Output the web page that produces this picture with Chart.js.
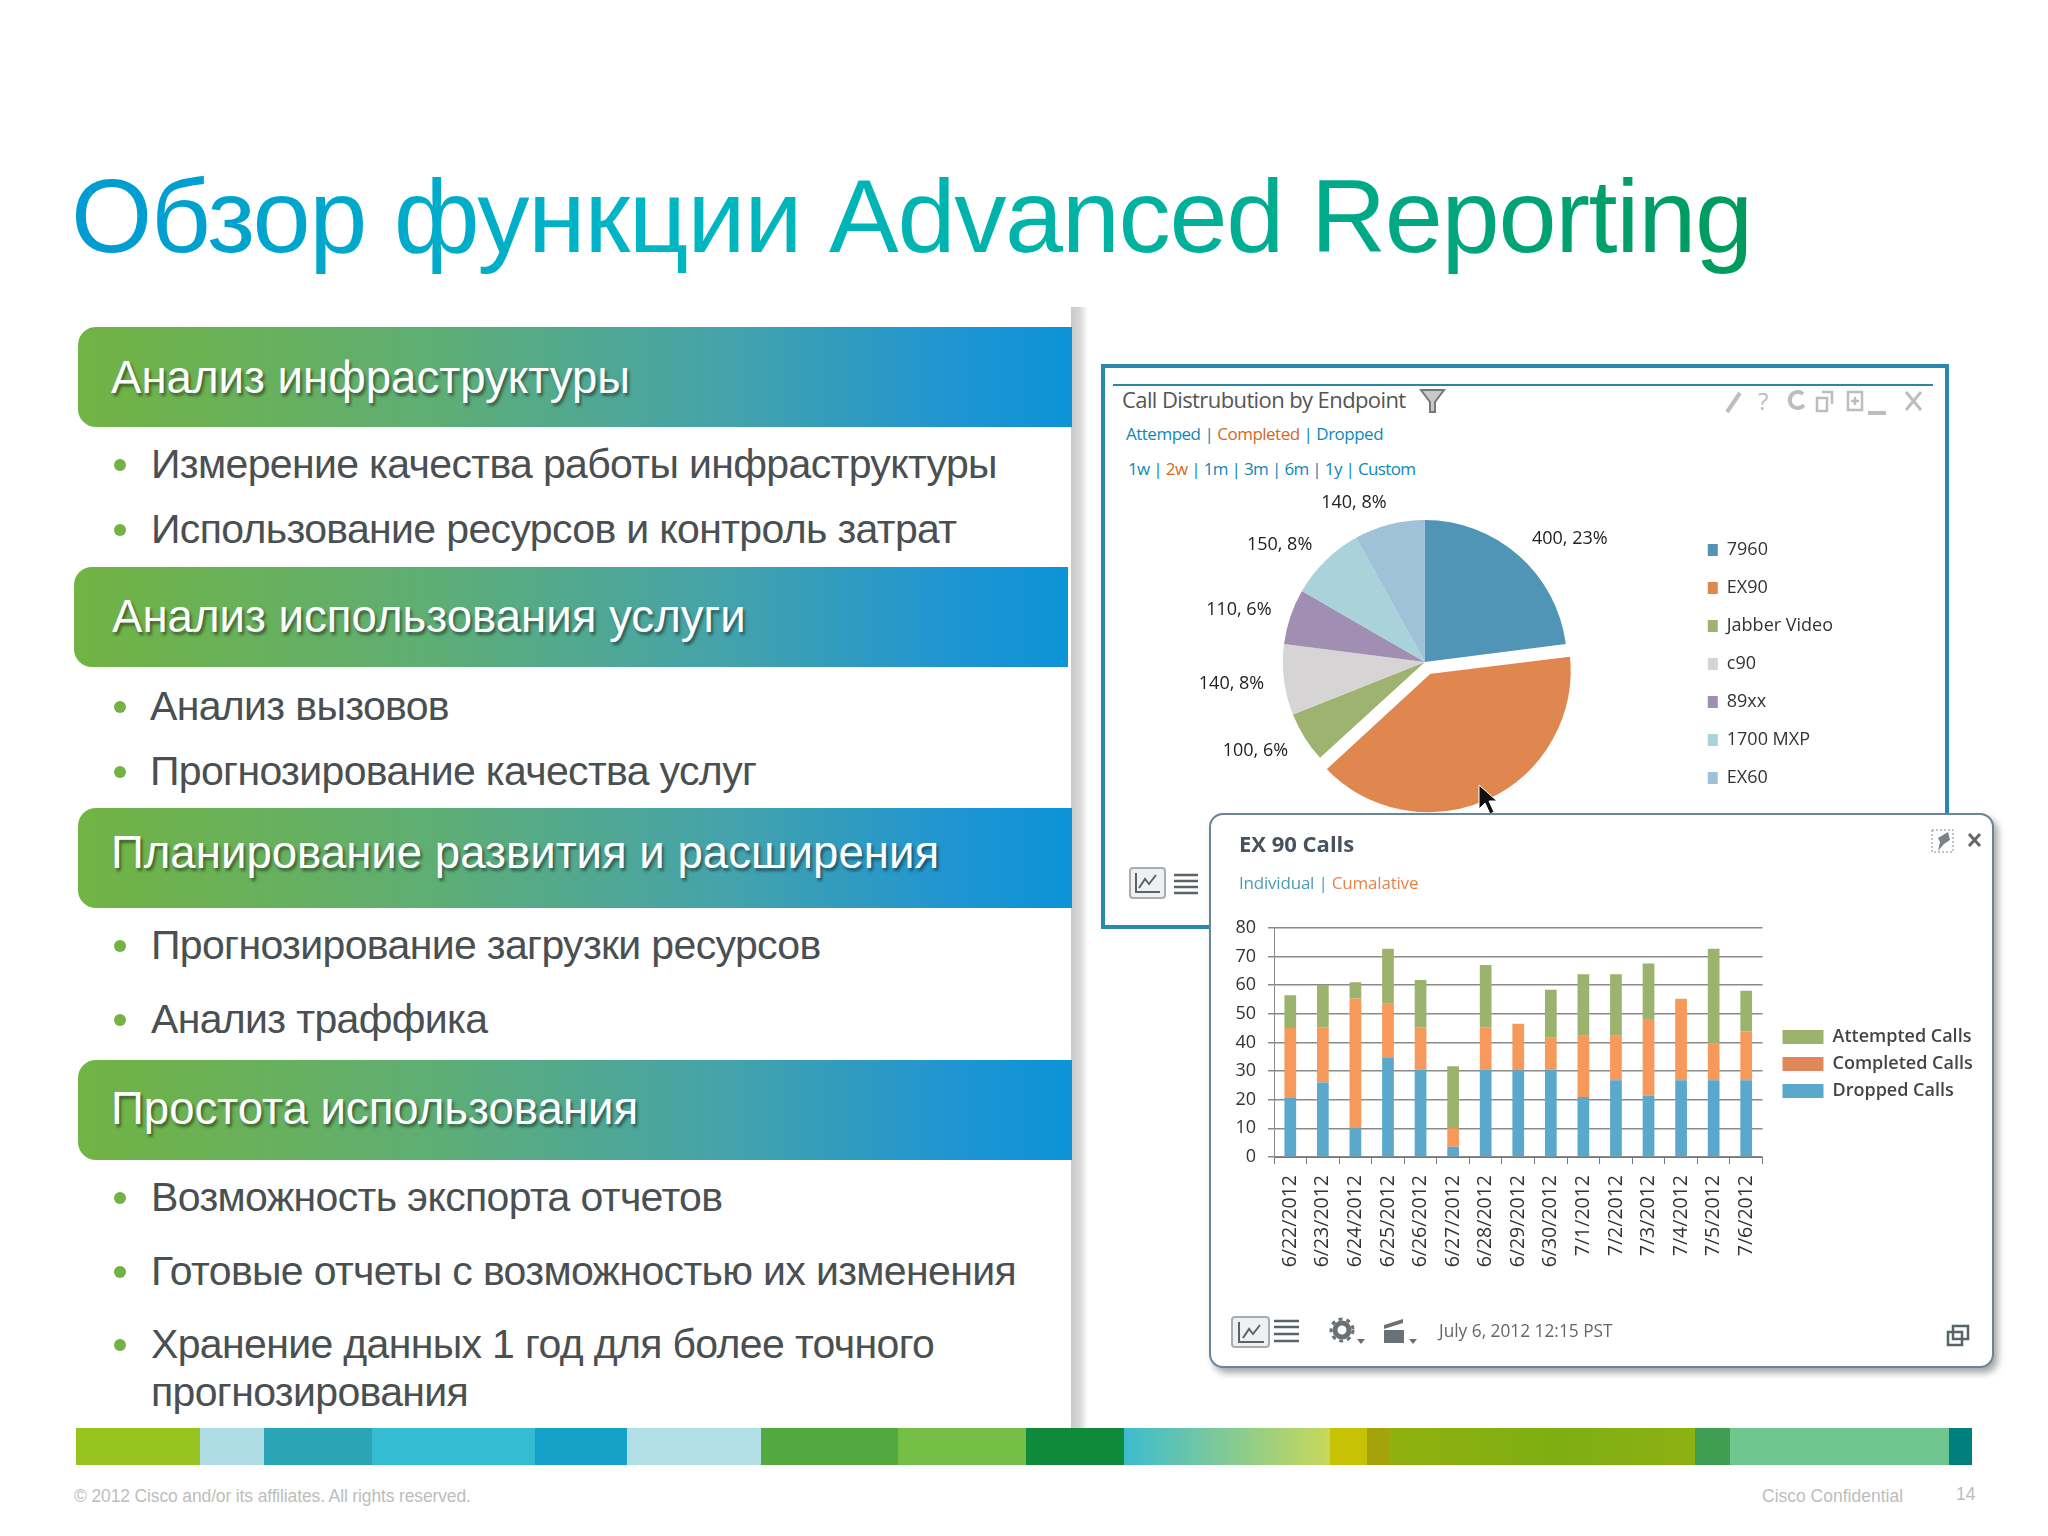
<!DOCTYPE html>
<html lang="ru">
<head>
<meta charset="utf-8">
<title>Обзор функции Advanced Reporting</title>
<script src="https://cdn.jsdelivr.net/npm/chart.js@4/dist/chart.umd.min.js"></script>
<style>
html, body { margin: 0; padding: 0; background: #fff; }
#slide { position: relative; width: 2048px; height: 1536px; overflow: hidden; background: #fff; font-family: "Liberation Sans", Arial, sans-serif; }
.t { position: absolute; white-space: nowrap; line-height: 1.2; transform: translateY(-50%); }
#title { left: 71px; top: 216px; font-size: 104.5px; letter-spacing: -1.35px; background: linear-gradient(90deg, #009bd2 0%, #00b6c4 35%, #00b3a2 62%, #009a5c 100%); -webkit-background-clip: text; background-clip: text; color: transparent; }
.head { position: absolute; height: 100px; border-radius: 18px 0 0 18px; background: linear-gradient(90deg, #72b343 0%, #5fae73 35%, #45a3aa 65%, #1f95d2 88%, #0c93d8 100%); }
.head span { position: absolute; left: 33px; top: 50%; transform: translateY(-50%); color: #fff; font-size: 45.6px; white-space: nowrap; text-shadow: 2px 3px 3px rgba(0,0,0,.45); }
.item { left: 151px; font-size: 41px; letter-spacing: -0.65px; color: #4a4f52; }
.dot { position: absolute; left: 114px; width: 12px; height: 12px; border-radius: 50%; background: #72b343; transform: translateY(-50%); }
#sep { position: absolute; left: 1071px; top: 307px; width: 17px; height: 1121px; background: linear-gradient(90deg, #c9c9cc 0%, #d6d6d8 50%, #fff 100%); }
#stripe { position: absolute; left: 76px; top: 1428px; height: 37px; width: 1896px; }
#stripe i { position: absolute; top: 0; height: 37px; }
.foot { font-size: 17.5px; color: #bdbdbd; }
#frame { position: absolute; left: 1101px; top: 364px; width: 840px; height: 557px; border: 4px solid #2a8aae; background: #fff; z-index: 1; }
#frameRule { position: absolute; left: 1113px; top: 384px; width: 820px; height: 2px; background: #2b85a8; z-index: 2; }
#pieWrap { position: absolute; left: 1155px; top: 486px; z-index: 3; }
#popup { position: absolute; left: 1209px; top: 813px; width: 781px; height: 551px; border: 2px solid #6a8598; border-radius: 14px; background: #fff; box-shadow: 4px 5px 7px rgba(0,0,0,.35); z-index: 5; }
#barWrap { position: absolute; left: 1233px; top: 905px; z-index: 6; }
.shot { font-family: "Open Sans", sans-serif; z-index: 7; }
.blue { color: #0f87b6; }
.orange { color: #d2691e; }
svg.layer { position: absolute; left: 0; top: 0; pointer-events: none; }
</style>
</head>
<body>
<div id="slide">
  <div class="t" id="title">Обзор функции Advanced Reporting</div>

  <div id="sep"></div>

  <div class="head" style="left:78px;top:327px;width:994px"><span style="margin-top:1px">Анализ инфраструктуры</span></div>
  <div class="dot" style="top:465px"></div><div class="t item" style="top:465px">Измерение качества работы инфраструктуры</div>
  <div class="dot" style="top:530px"></div><div class="t item" style="top:530px">Использование ресурсов и контроль затрат</div>

  <div class="head" style="left:74px;top:567px;width:994px"><span style="left:38px">Анализ использования услуги</span></div>
  <div class="dot" style="top:707px"></div><div class="t item" style="top:707px;left:150px">Анализ вызовов</div>
  <div class="dot" style="top:772px"></div><div class="t item" style="top:772px;left:150px">Прогнозирование качества услуг</div>

  <div class="head" style="left:78px;top:808px;width:994px"><span style="margin-top:-5px">Планирование развития и расширения</span></div>
  <div class="dot" style="top:946px"></div><div class="t item" style="top:946px">Прогнозирование загрузки ресурсов</div>
  <div class="dot" style="top:1020px"></div><div class="t item" style="top:1020px">Анализ траффика</div>

  <div class="head" style="left:78px;top:1060px;width:994px"><span style="margin-top:-1px">Простота использования</span></div>
  <div class="dot" style="top:1198px"></div><div class="t item" style="top:1198px">Возможность экспорта отчетов</div>
  <div class="dot" style="top:1272px"></div><div class="t item" style="top:1272px">Готовые отчеты с возможностью их изменения</div>
  <div class="dot" style="top:1345px"></div><div class="t item" style="top:1345px">Хранение данных 1 год для более точного</div>
  <div class="t item" style="top:1393px">прогнозирования</div>

  <div id="stripe">
    <i style="left:0;width:124px;background:#98c41f"></i>
    <i style="left:124px;width:64px;background:#aedde6"></i>
    <i style="left:188px;width:108px;background:#2ba5b5"></i>
    <i style="left:296px;width:163px;background:#34bcd3"></i>
    <i style="left:459px;width:92px;background:#16a2c8"></i>
    <i style="left:551px;width:134px;background:#b2dfe6"></i>
    <i style="left:685px;width:137px;background:#53a93f"></i>
    <i style="left:822px;width:128px;background:#76bf47"></i>
    <i style="left:950px;width:98px;background:#0f8a3a"></i>
    <i style="left:1048px;width:206px;background:linear-gradient(90deg,#3dbccf,#c8d85a)"></i>
    <i style="left:1254px;width:37px;background:#c8c204"></i>
    <i style="left:1291px;width:22px;background:#a5a20a"></i>
    <i style="left:1313px;width:306px;background:linear-gradient(90deg,#90b10f,#7eae12 55%,#8db112)"></i>
    <i style="left:1619px;width:35px;background:#3f9e52"></i>
    <i style="left:1654px;width:219px;background:#6fc68e"></i>
    <i style="left:1873px;width:23px;background:#007f7f"></i>
  </div>

  <div class="t foot" style="left:74px;top:1496px;letter-spacing:-0.14px">© 2012 Cisco and/or its affiliates. All rights reserved.</div>
  <div class="t foot" style="left:1762px;top:1496px">Cisco Confidential</div>
  <div class="t foot" style="left:1956px;top:1494px">14</div>

  <!-- back window -->
  <div id="frame"></div>
  <div id="frameRule"></div>
  <div class="t shot" style="left:1122px;top:399px;font-size:22px;letter-spacing:-0.6px;color:#555;z-index:3">Call Distrubution by Endpoint</div>
  <div class="t shot" style="left:1126px;top:434px;font-size:17px;letter-spacing:-0.5px;z-index:3"><span class="blue">Attemped</span> <span class="blue">|</span> <span class="orange">Completed</span> <span class="blue">|</span> <span class="blue">Dropped</span></div>
  <div class="t shot" style="left:1128px;top:469px;font-size:17px;letter-spacing:-0.65px;z-index:3"><span class="blue">1w |</span> <span class="orange">2w</span> <span class="blue">| 1m | 3m | 6m | 1y | Custom</span></div>
  <svg class="layer" width="2048" height="1536" style="z-index:3">
    <path d="M1421 390h23l-9 12v10h-5v-10z" fill="#c9c9c9" stroke="#777" stroke-width="2"/>
    <path d="M1727 412l13-19" stroke="#bdbdbd" stroke-width="4"/>
    <text x="1758" y="410" font-family="Open Sans" font-size="24" fill="#bdbdbd">?</text>
    <path d="M1803 394a8 8 0 1 0 1 11" fill="none" stroke="#bdbdbd" stroke-width="4"/>
    <path d="M1817 398h10v13h-10zM1822 392h10v12" fill="none" stroke="#bdbdbd" stroke-width="2.5"/>
    <path d="M1848 392h14v18h-14zM1851 401h8M1855 397v8" fill="none" stroke="#bdbdbd" stroke-width="2.5"/>
    <path d="M1868 413h18" stroke="#bdbdbd" stroke-width="4"/>
    <path d="M1906 392l15 18M1921 392l-15 18" stroke="#bdbdbd" stroke-width="3"/>
    <rect x="1130" y="868" width="35" height="30" rx="3" fill="#eef0f1" stroke="#a8adb0" stroke-width="2"/>
    <path d="M1136 873v19h24M1139 888l6-9 4 5 7-9" fill="none" stroke="#5a6468" stroke-width="2"/>
    <path d="M1174 875h24M1174 881h24M1174 887h24M1174 893h24" stroke="#5a6468" stroke-width="2.5"/>
  </svg>
  <div id="pieWrap"><canvas id="pieChart" width="695" height="352"></canvas></div>
  <svg class="layer" width="2048" height="1536" style="z-index:4">
    <path d="M1479 785v24l6-6 5 11 4-2-5-11h8z" fill="#111" stroke="#fff" stroke-width="1"/>
  </svg>

  <!-- popup window -->
  <div id="popup"></div>
  <div class="t shot" style="left:1239px;top:843px;font-size:22px;font-weight:700;color:#47525e">EX 90 Calls</div>
  <div class="t shot" style="left:1239px;top:883px;font-size:17px;letter-spacing:-0.2px"><span style="color:#4a9bb8">Individual |</span> <span style="color:#e8834a">Cumalative</span></div>
  <div id="barWrap"><canvas id="barChart" width="770" height="370"></canvas></div>
  <div class="t shot" style="left:1439px;top:1331px;font-size:17.3px;color:#666">July 6, 2012 12:15 PST</div>
  <svg class="layer" width="2048" height="1536" style="z-index:7">
    <rect x="1932" y="830" width="21" height="22" fill="none" stroke="#888" stroke-dasharray="2 2"/>
    <path d="M1948 832l2 8-6 4-6 7 2-9-2-4z" fill="#7b8288"/>
    <path d="M1969 834l11 12M1980 834l-11 12" stroke="#666" stroke-width="3"/>
    <rect x="1232" y="1317" width="37" height="30" rx="3" fill="#eef0f1" stroke="#a8adb0" stroke-width="2"/>
    <path d="M1239 1322v20h25M1243 1338l6-9 4 5 7-9" fill="none" stroke="#5a6468" stroke-width="2"/>
    <path d="M1274 1321h25M1274 1327h25M1274 1334h25M1274 1341h25" stroke="#5a6468" stroke-width="2.5"/>
    <circle cx="1342" cy="1330" r="7" fill="none" stroke="#6a7176" stroke-width="5"/>
    <circle cx="1342" cy="1330" r="11" fill="none" stroke="#6a7176" stroke-width="3" stroke-dasharray="4 4"/>
    <path d="M1357 1339h8l-4 5z" fill="#6a7176"/>
    <path d="M1384 1325l19-6v4l-19 6zM1384 1330h20v13h-20z" fill="#6a7176"/>
    <path d="M1409 1339h8l-4 5z" fill="#6a7176"/>
    <path d="M1953 1326h15v13h-15zM1948 1332h14v13h-14z" fill="#fff" stroke="#5a6468" stroke-width="2.5"/>
  </svg>
</div>

<script>
// call distribution pie
const pieLabels = ['7960', 'EX90', 'Jabber Video', 'c90', '89xx', '1700 MXP', 'EX60'];
const pieValues = [400, 700, 100, 140, 110, 150, 140];
const pieShares = [23, null, 6, 8, 6, 8, 8]; // EX90 label sits behind the popup
const pieColors = ['#5095b5', '#e0874f', '#9db36f', '#d6d4d5', '#a08fb2', '#a9d2da', '#9fc2d9'];

// EX 90 calls, stacked bars
const days = ['6/22/2012', '6/23/2012', '6/24/2012', '6/25/2012', '6/26/2012', '6/27/2012', '6/28/2012', '6/29/2012',
    '6/30/2012', '7/1/2012', '7/2/2012', '7/3/2012', '7/4/2012', '7/5/2012', '7/6/2012'];
const droppedCalls = [20.6, 26, 10, 34.8, 30.5, 3.6, 30.5, 30.3, 30.5, 20.9, 26.8, 21.5, 26.8, 26.8, 26.8];
const completedCalls = [24.4, 19.3, 45.3, 18.7, 14.8, 6.4, 14.8, 16.2, 11.1, 21.4, 15.5, 26.7, 28.4, 12.9, 17];
const attemptedCalls = [11.5, 14.7, 5.7, 19.2, 16.5, 21.7, 21.7, 0, 16.8, 21.5, 21.5, 19.3, 0, 33, 14.2];

const sliceLabels = {
    id: 'sliceLabels',
    afterDatasetsDraw(chart) {
        const { ctx } = chart;
        ctx.save();
        ctx.font = '18px "Open Sans"';
        ctx.fillStyle = '#222';
        ctx.textBaseline = 'middle';
        chart.getDatasetMeta(0).data.forEach((arc, i) => {
            if (pieShares[i] === null) return;
            const mid = (arc.startAngle + arc.endAngle) / 2;
            const right = Math.cos(mid) > 0;
            ctx.textAlign = right ? 'left' : 'right';
            ctx.fillText(`${pieValues[i]}, ${pieShares[i]}%`,
                arc.x + Math.cos(mid) * 165 + (right ? -2 : 3),
                arc.y + Math.sin(mid) * 165 + 1);
        });
        ctx.restore();
    }
};

// the legend boxes don't sit where the layout wants them
const moveLegend = {
    id: 'moveLegend',
    afterLayout(chart, args, opts) {
        const legend = chart.legend;
        legend.left += opts.dx;
        legend.right = chart.width; // legend clips its text to this box
        legend.top += opts.dy;
        legend.bottom += opts.dy;
    }
};

const defaultLegendItems = Chart.defaults.plugins.legend.labels.generateLabels;

new Chart(document.getElementById('pieChart'), {
    type: 'pie',
    data: {
        labels: pieLabels,
        datasets: [{
            data: pieValues,
            backgroundColor: pieColors,
            offset: [0, 36, 0, 0, 0, 0, 0],
            borderWidth: [0, 7.6, 0, 0, 0, 0, 0],
            borderColor: '#fff'
        }]
    },
    options: {
        responsive: false,
        animation: false,
        radius: 142,
        plugins: {
            legend: {
                position: 'right',
                labels: {
                    boxWidth: 10,
                    boxHeight: 12,
                    padding: 20,
                    color: '#333',
                    font: { family: 'Open Sans', size: 18 },
                    // white border is only for the pulled out slice
                    generateLabels: chart => Chart.overrides.pie.plugins.legend.labels.generateLabels(chart).map(item => ({ ...item, lineWidth: 0 }))
                }
            },
            tooltip: { enabled: false },
            moveLegend: { dx: -7, dy: 2 }
        }
    },
    plugins: [sliceLabels, moveLegend]
});

new Chart(document.getElementById('barChart'), {
    type: 'bar',
    data: {
        labels: days,
        datasets: [
            { label: 'Dropped Calls', data: droppedCalls, backgroundColor: '#5aa9cc', barPercentage: 0.36, categoryPercentage: 1 },
            { label: 'Completed Calls', data: completedCalls, backgroundColor: '#f7995a', barPercentage: 0.36, categoryPercentage: 1 },
            { label: 'Attempted Calls', data: attemptedCalls, backgroundColor: '#9cb36e', barPercentage: 0.36, categoryPercentage: 1 }
        ]
    },
    options: {
        responsive: false,
        animation: false,
        layout: { padding: { top: 20, right: 64 } },
        scales: {
            x: {
                stacked: true,
                afterFit(scale) { scale.height = 118; },
                grid: { drawOnChartArea: false, color: '#777', tickLength: 7 },
                border: { color: '#777' },
                ticks: { minRotation: 90, maxRotation: 90, autoSkip: false, padding: 11, color: '#333', font: { family: 'Open Sans', size: 19.5 } }
            },
            y: {
                stacked: true,
                min: 0,
                max: 80,
                afterFit(scale) { scale.width = 41; },
                grid: { color: '#8a8a8a', lineWidth: 1.5, tickLength: 6 },
                border: { color: '#8a8a8a' },
                ticks: { stepSize: 10, padding: 12, color: '#333', font: { family: 'Open Sans', size: 18 } }
            }
        },
        plugins: {
            legend: {
                position: 'right',
                reverse: true,
                labels: {
                    boxWidth: 41,
                    boxHeight: 14,
                    padding: 9,
                    color: '#444',
                    font: { family: 'Open Sans', size: 18, weight: '600' },
                    // legend orange is darker than the bars in the original
                    generateLabels: chart => defaultLegendItems(chart).map(item => item.text === 'Completed Calls' ? { ...item, fillStyle: '#e0875a' } : item)
                }
            },
            tooltip: { enabled: false },
            moveLegend: { dx: 11, dy: -36 }
        }
    },
    plugins: [moveLegend]
});
</script>
</body>
</html>
